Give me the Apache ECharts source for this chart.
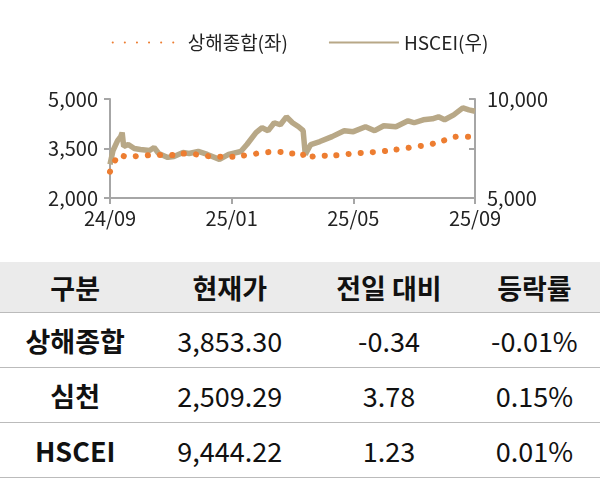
<!DOCTYPE html>
<html><head><meta charset="utf-8">
<script src="https://cdn.jsdelivr.net/npm/echarts@6/dist/echarts.min.js"></script>
<style>
body{margin:0;width:600px;height:480px;overflow:hidden;background:#fff;font-family:"Noto Sans CJK KR","Noto Sans",sans-serif;}
#c{width:600px;height:258px;}
table{border-collapse:collapse;width:600px;position:absolute;top:262px;left:0;font-size:27px;color:#111;}
td,th{text-align:center;padding:0;height:54px;border-bottom:1px solid #bbb;font-weight:normal;}
th{background:#ebebeb;font-weight:bold;height:50px;}
td:first-child{font-weight:bold;}
</style></head><body>
<div id="c"></div>
<table id="t"></table>
<script>
const xTickLabels = ['24/09','25/01','25/05','25/09'];
const shMonths = [0,0.15,0.3,0.6,1.0,1.5,2,2.5,3,3.5,4,4.5,5,5.5,6,6.3,6.4,6.6,7,7.5,8,8.5,9,9.5,10,10.5,11,11.5,12];
const shValues = [2800,3100,3300,3250,3280,3300,3300,3350,3300,3250,3250,3300,3370,3400,3350,3370,3200,3250,3280,3300,3350,3380,3420,3480,3550,3620,3750,3860,3850];
const hsMonths = [0,0.1,0.25,0.35,0.4,0.45,0.6,0.8,1.0,1.3,1.45,1.6,1.9,2.1,2.4,2.6,2.9,3.2,3.6,3.9,4.3,4.5,4.8,5.0,5.2,5.4,5.6,5.8,6.0,6.2,6.35,6.42,6.6,6.9,7.3,7.7,8.0,8.4,8.7,9.0,9.4,9.8,10.0,10.3,10.6,10.8,11.0,11.3,11.6,11.8,12.0];
const hsValues = [6700,7400,7900,8100,8300,7600,7700,7500,7450,7400,7550,7250,7050,7100,7300,7250,7350,7200,6950,7200,7350,7700,8300,8550,8400,8800,8700,9100,8800,8600,8400,7200,7700,7850,8100,8400,8350,8600,8400,8650,8600,8900,8800,8950,9000,9100,8950,9200,9550,9450,9380];
const tableHeader = ['구분','현재가','전일 대비','등락률'];
const tableRows = [['상해종합','3,853.30','-0.34','-0.01%'],['심천','2,509.29','3.78','0.15%'],['HSCEI','9,444.22','1.23','0.01%']];

const t=document.getElementById('t');
t.innerHTML='<tr>'+tableHeader.map(h=>'<th>'+h+'</th>').join('')+'</tr>'+
 tableRows.map(r=>'<tr>'+r.map(v=>'<td>'+v+'</td>').join('')+'</tr>').join('');

const ch=echarts.init(document.getElementById('c'));
const font='"Noto Sans CJK KR","Noto Sans",sans-serif';
const axLine={show:true,lineStyle:{color:'#a6a6a6',width:2}};
ch.setOption({
 textStyle:{fontFamily:font},
 legend:{top:28,itemGap:40,itemWidth:70,itemStyle:{opacity:0},textStyle:{fontSize:19,color:'#222'},
   data:[{name:'상해종합(좌)'},{name:'HSCEI(우)'}]},
 grid:{left:110,right:125,top:99,bottom:60},
 xAxis:{type:'value',min:0,max:12,interval:4,axisLine:axLine,axisTick:{show:true,length:6,lineStyle:{color:'#a6a6a6',width:2}},splitLine:{show:false},
   axisLabel:{fontSize:20,color:'#222',margin:10,formatter:v=>xTickLabels[v/4]}},
 yAxis:[
  {type:'value',min:2000,max:5000,interval:1500,axisLine:axLine,axisTick:{show:true,length:6,lineStyle:{color:'#a6a6a6',width:2}},splitLine:{show:false},
   axisLabel:{fontSize:20,color:'#222',margin:12,formatter:v=>v.toLocaleString('en-US')}},
  {type:'value',min:5000,max:10000,interval:2500,position:'right',axisLine:axLine,axisTick:{show:true,length:6,inside:true,lineStyle:{color:'#a6a6a6',width:2}},splitLine:{show:false},
   axisLabel:{fontSize:20,color:'#222',margin:12,formatter:v=>v%5000===0?v.toLocaleString('en-US'):''}}
 ],
 series:[
  {name:'상해종합(좌)',type:'line',yAxisIndex:0,symbol:'none',smooth:true,z:3,
   data:shMonths.map((m,i)=>[m,shValues[i]]),
   lineStyle:{color:'#ED7D31',width:6,type:[0.1,12],cap:'round'},itemStyle:{color:'#ED7D31'}},
  {name:'HSCEI(우)',type:'line',yAxisIndex:1,symbol:'none',z:2,
   data:hsMonths.map((m,i)=>[m,hsValues[i]]),
   lineStyle:{color:'#B8A887',width:5.5},itemStyle:{color:'#B8A887'}}
 ]
});
</script></body></html>
